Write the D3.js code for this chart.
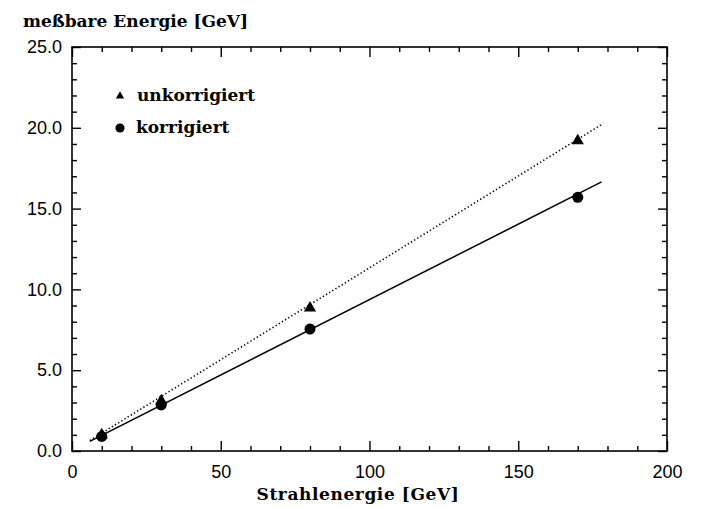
<!DOCTYPE html>
<html>
<head>
<meta charset="utf-8">
<script src="https://cdn.jsdelivr.net/npm/d3@7"></script>
<style>
  body { margin: 0; background: #fff; }
  .tl text { font-family: "Liberation Sans", Arial, sans-serif; font-size: 18px; fill: #000; }
  .lbl { font-family: "DejaVu Serif", serif; font-weight: bold; font-size: 17px; fill: #000; }
</style>
</head>
<body>
<svg width="701" height="508"></svg>
<script>
// Strahlenergie (beam energy) in GeV
var beam = [10, 30, 80, 170];
// measured energy, uncorrected / corrected
var unkorrigiert = [1.0, 3.1, 8.85, 19.2];
var korrigiert = [0.9, 2.85, 7.55, 15.7];
// end points of the fitted lines
var fitX = [6, 178];
var fitUnk = [0.65, 20.2];
var fitKorr = [0.6, 16.65];
// ticks
var xMajor = [0, 50, 100, 150, 200];
var yMajor = [0, 5, 10, 15, 20, 25];

var svg = d3.select("svg"),
    pLeft = 72, pRight = 667, pTop = 47, pBottom = 451;

var x = d3.scaleLinear().domain([0, 200]).range([pLeft, pRight]);
var y = d3.scaleLinear().domain([0, 25]).range([pBottom, pTop]);

var xMinor = d3.range(0, 201, 10).filter(function(d){ return d % 50 != 0 });
var yMinor = d3.range(0, 26, 1).filter(function(d){ return d % 5 != 0 });

// frame
svg.append("rect")
    .attr("x", pLeft).attr("y", pTop)
    .attr("width", pRight - pLeft).attr("height", pBottom - pTop)
    .attr("fill", "none").attr("stroke", "#000").attr("stroke-width", 1.6);

function styleAxis(g) {
  g.select(".domain").remove();
  g.selectAll(".tick line").attr("stroke", "#000").attr("stroke-width", 1.4);
}

// bottom axis
svg.append("g").attr("class", "tl")
    .attr("transform", "translate(0," + pBottom + ")")
    .call(d3.axisBottom(x).tickValues(xMajor).tickSize(-10).tickPadding(14).tickFormat(d3.format("d")))
    .call(styleAxis)
    .selectAll("text").attr("font-size", null).attr("font-family", null).attr("dy", "0.71em");
svg.append("g")
    .attr("transform", "translate(0," + pBottom + ")")
    .call(d3.axisBottom(x).tickValues(xMinor).tickSize(-5).tickFormat(""))
    .call(styleAxis);

// top axis
svg.append("g")
    .attr("transform", "translate(0," + pTop + ")")
    .call(d3.axisTop(x).tickValues(xMajor).tickSize(-10).tickFormat(""))
    .call(styleAxis);
svg.append("g")
    .attr("transform", "translate(0," + pTop + ")")
    .call(d3.axisTop(x).tickValues(xMinor).tickSize(-5).tickFormat(""))
    .call(styleAxis);

// left axis
svg.append("g").attr("class", "tl")
    .attr("transform", "translate(" + pLeft + ",0)")
    .call(d3.axisLeft(y).tickValues(yMajor).tickSize(-9).tickPadding(10).tickFormat(d3.format(".1f")))
    .call(styleAxis)
    .selectAll("text").attr("font-size", null).attr("font-family", null);
svg.append("g")
    .attr("transform", "translate(" + pLeft + ",0)")
    .call(d3.axisLeft(y).tickValues(yMinor).tickSize(-5).tickFormat(""))
    .call(styleAxis);

// right axis
svg.append("g")
    .attr("transform", "translate(" + pRight + ",0)")
    .call(d3.axisRight(y).tickValues(yMajor).tickSize(-9).tickFormat(""))
    .call(styleAxis);
svg.append("g")
    .attr("transform", "translate(" + pRight + ",0)")
    .call(d3.axisRight(y).tickValues(yMinor).tickSize(-5).tickFormat(""))
    .call(styleAxis);

// fit lines
var line = d3.line()
    .x(function(d){ return x(d[0]) })
    .y(function(d){ return y(d[1]) });

svg.append("path")
    .attr("d", line(d3.zip(fitX, fitUnk)))
    .attr("fill", "none").attr("stroke", "#000")
    .attr("stroke-width", 1.6).attr("stroke-dasharray", "1.3,2.4");

svg.append("path")
    .attr("d", line(d3.zip(fitX, fitKorr)))
    .attr("fill", "none").attr("stroke", "#000")
    .attr("stroke-width", 1.5);

// markers
var tri = d3.symbol().type(d3.symbolTriangle).size(65);
var dot = d3.symbol().type(d3.symbolCircle).size(95);

svg.selectAll("path.unk")
    .data(d3.zip(beam, unkorrigiert))
    .enter()
    .append("path")
      .attr("class", "unk")
      .attr("d", tri)
      .attr("transform", function(d){ return "translate(" + x(d[0]) + "," + y(d[1]) + ")" })
      .attr("fill", "#000");

svg.selectAll("path.korr")
    .data(d3.zip(beam, korrigiert))
    .enter()
    .append("path")
      .attr("class", "korr")
      .attr("d", dot)
      .attr("transform", function(d){ return "translate(" + x(d[0]) + "," + y(d[1]) + ")" })
      .attr("fill", "#000");

// legend
svg.append("path")
    .attr("d", d3.symbol().type(d3.symbolTriangle).size(30))
    .attr("transform", "translate(120,96)")
    .attr("fill", "#000");
svg.append("text").attr("class", "lbl").attr("x", 137).attr("y", 101).text("unkorrigiert");

svg.append("path")
    .attr("d", d3.symbol().type(d3.symbolCircle).size(65))
    .attr("transform", "translate(120,128)")
    .attr("fill", "#000");
svg.append("text").attr("class", "lbl").attr("x", 136).attr("y", 133).text("korrigiert");

// axis titles
svg.append("text").attr("class", "lbl").attr("x", 23).attr("y", 27).text("meßbare Energie [GeV]");
svg.append("text").attr("class", "lbl").attr("x", 358).attr("y", 500)
    .attr("text-anchor", "middle").attr("letter-spacing", "0.6").text("Strahlenergie [GeV]");
</script>
</body>
</html>
